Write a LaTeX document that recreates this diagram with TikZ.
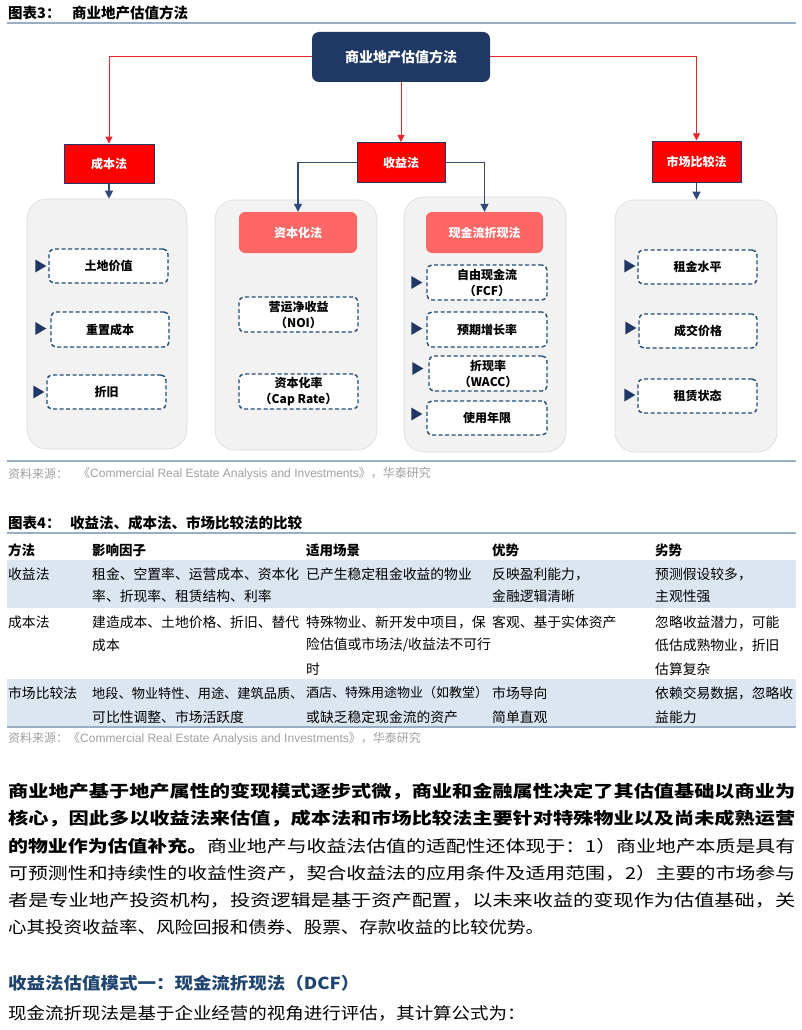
\documentclass[tikz,border=0pt]{standalone}
\usepackage{fontspec}
\usepackage{graphicx}
\setmainfont{Noto Sans CJK SC}
\newfontfamily\lat{Liberation Sans}
\usetikzlibrary{arrows.meta}
\definecolor{navy}{HTML}{1F3864}
\definecolor{navyline}{HTML}{2F4A7A}
\definecolor{dashnavy}{HTML}{1F4E79}
\definecolor{redfill}{HTML}{FF0000}
\definecolor{redline}{HTML}{E8262B}
\definecolor{salmon}{HTML}{FF6666}
\definecolor{panelgray}{HTML}{F2F2F2}
\definecolor{panelline}{HTML}{DADADA}
\definecolor{rulecol}{HTML}{9AAEC6}
\definecolor{srcgray}{HTML}{A0A0A0}
\definecolor{rowblue}{HTML}{DCE6F1}
\definecolor{headblue}{HTML}{1F4470}
\newcommand{\fullline}[1]{\resizebox{787pt}{\height}{#1}}
\newcommand{\shl}[1]{\scalebox{1.12}[1]{#1}}
\tikzset{
  x=1pt, y=-1pt,
  panel/.style={draw=panelline, fill=panelgray, rounded corners=20pt, line width=0.6pt},
  dbox/.style={draw=dashnavy, dashed, dash pattern=on 4pt off 2.5pt, line width=1.4pt, fill=white,
    rounded corners=5pt, minimum width=119pt, minimum height=34pt, inner sep=1pt, align=center,
    font=\fontsize{12}{16}\selectfont\bfseries},
  redbox/.style={draw=navy, line width=1pt, fill=redfill, minimum width=90pt, minimum height=39pt,
    text=white, font=\fontsize{12}{14}\selectfont\bfseries},
  salbox/.style={fill=salmon, rounded corners=6pt, minimum width=118pt, minimum height=41pt,
    text=white, font=\fontsize{12}{14}\selectfont\bfseries},
  redarr/.style={draw=redline, line width=1pt, -{Triangle[width=7pt,length=7pt]}},
  navarr/.style={draw=navyline, line width=1.2pt, -{Triangle[width=8pt,length=8pt]}},
  rulestyle/.style={draw=rulecol, line width=1.2pt},
  title/.style={anchor=west, inner sep=0pt, font=\fontsize{14.5}{16}\selectfont\bfseries},
  src/.style={anchor=west, inner sep=0pt, text=srcgray, font=\fontsize{12}{14}\selectfont},
  th/.style={anchor=west, inner sep=0pt, font=\fontsize{13.5}{16}\selectfont\bfseries},
  td/.style={anchor=west, inner sep=0pt, font=\fontsize{13.8}{16}\selectfont},
  para/.style={anchor=west, inner sep=0pt, font=\fontsize{16.5}{18}\selectfont},
}
\begin{document}
\begin{tikzpicture}
\useasboundingbox[fill=white] (0,0) rectangle (802,1030);

% ---------- Figure 3 ----------
\node[title] (t3a) at (8,13) {图表3：};
\node[title] (t3b) at (72,13) {商业地产估值方法};
\draw[rulestyle] (7,23) -- (796,23);

\node[fill=navy, rounded corners=7pt, minimum width=178pt, minimum height=50pt, text=white,
  font=\fontsize{14}{16}\selectfont\bfseries] (T) at (401,57) {商业地产估值方法};

\node[redbox] (C) at (109,163.5) {成本法};
\node[redbox, minimum width=88pt, minimum height=40pt] (S) at (401,162.5) {收益法};
\node[redbox, minimum width=89pt, minimum height=41pt] (M) at (696.5,161.5) {市场比较法};

\draw[redarr] (T.west) -| (C.north);
\draw[redarr] (T.east) -| (M.north);
\draw[redarr] (T.south) -- (S.north);

% panels
\node[panel, minimum width=160pt, minimum height=250pt] (P1) at (107,324) {};
\node[panel, minimum width=162pt, minimum height=250pt] (P2) at (296,325) {};
\node[panel, minimum width=162pt, minimum height=255pt] (P3) at (485,324.5) {};
\node[panel, minimum width=162pt, minimum height=252pt] (P4) at (696,326) {};

\node[salbox] (K) at (298,232.5) {资本化法};
\node[salbox, minimum width=117pt] (D) at (484.5,232.5) {现金流折现法};

\draw[navarr] (C.south) -- (C.south |- P1.north);
\draw[navarr] (S.west) -| (K.north);
\draw[navarr] (S.east) -| (D.north);
\draw[navarr] (M.south) -- (M.south |- P4.north);

% panel 1
\node[dbox] (b11) at (108.5,266) {土地价值};
\node[dbox, minimum width=118pt, minimum height=35pt] (b12) at (110,329.5) {重置成本};
\node[dbox] (b13) at (106.5,392) {折旧};
% panel 2
\node[dbox, minimum height=35pt] (b21) at (298.5,314.5) {营运净收益\\（NOI）};
\node[dbox, minimum height=35pt] (b22) at (298.5,391.5) {资本化率\\（Cap Rate）};
% panel 3
\node[dbox, minimum width=120pt, minimum height=35pt] (b31) at (487,282.5) {自由现金流\\（FCF）};
\node[dbox, minimum width=120pt, minimum height=35pt] (b32) at (487,329.5) {预期增长率};
\node[dbox, minimum width=118pt, minimum height=35pt] (b33) at (488,373.5) {折现率\\（WACC）};
\node[dbox, minimum width=120pt] (b34) at (487,418) {使用年限};
% panel 4
\node[dbox] (b41) at (697.5,267) {租金水平};
\node[dbox, minimum width=118pt] (b42) at (698,331) {成交价格};
\node[dbox] (b43) at (697.5,396) {租赁状态};

% triangle markers
\foreach \b/\dx/\dy in {b11/2/0, b12/4/1, b13/2/0, b31/4/0, b32/4/1, b33/5/5, b34/4/4, b41/2/1, b42/2/3, b43/2/1}{
  \fill[navy] ([xshift=-\dx pt, yshift=\dy pt]\b.west) -- ++(-11,6.5) -- ++(0,-13) -- cycle;
}

\draw[rulestyle] (7,461) -- (796,461);
\node[src] (s1a) at (8,474) {资料来源：};
\node[src] (s1b) at (78,474) {《{\lat Commercial Real Estate Analysis and Investments}》，华泰研究};

% ---------- Figure 4 (table) ----------
\node[title] (t4a) at (8,523) {图表4：};
\node[title] (t4b) at (70,523) {收益法、成本法、市场比较法的比较};
\draw[rulestyle] (7,533) -- (796,533);

\fill[rowblue] (7,560) rectangle (796,608);
\fill[rowblue] (7,679) rectangle (796,727);
\draw[rulestyle] (7,727) -- (796,727);

\node[th] (h1) at (8,550) {方法};
\node[th] (h2) at (92,550) {影响因子};
\node[th] (h3) at (306,550) {适用场景};
\node[th] (h4) at (492,550) {优势};
\node[th] (h5) at (655,550) {劣势};

% row 1
\node[td] (r11) at (8,574) {收益法};
\node[td] (r12a) at (92,574) {租金、空置率、运营成本、资本化};
\node[td] (r12b) at (92,596) {率、折现率、租赁结构、利率};
\node[td] (r13) at (306,574) {已产生稳定租金收益的物业};
\node[td] (r14a) at (492,574) {反映盈利能力，};
\node[td] (r14b) at (492,596) {金融逻辑清晰};
\node[td] (r15a) at (655,574) {预测假设较多，};
\node[td] (r15b) at (655,596) {主观性强};
% row 2
\node[td] (r21) at (8,622) {成本法};
\node[td] (r22a) at (92,622) {建造成本、土地价格、折旧、替代};
\node[td] (r22b) at (92,645) {成本};
\node[td] (r23a) at (306,622) {特殊物业、新开发中项目，保};
\node[td] (r23b) at (306,645) {险估值或市场法/收益法不可行};
\node[td] (r23c) at (306,669) {时};
\node[td] (r24) at (492,622) {客观、基于实体资产};
\node[td] (r25a) at (655,622) {忽略收益潜力，可能};
\node[td] (r25b) at (655,645) {低估成熟物业，折旧};
\node[td] (r25c) at (655,669) {估算复杂};
% row 3
\node[td] (r31) at (8,693) {市场比较法};
\node[td, font=\fontsize{13.2}{16}\selectfont] (r32a) at (92,693) {地段、物业特性、用途、建筑品质、};
\node[td] (r32b) at (92,717) {可比性调整、市场活跃度};
\node[td, font=\fontsize{13}{16}\selectfont] (r33a) at (306,693) {酒店、特殊用途物业（如教堂）};
\node[td] (r33b) at (306,717) {或缺乏稳定现金流的资产};
\node[td] (r34a) at (492,693) {市场导向};
\node[td] (r34b) at (492,717) {简单直观};
\node[td] (r35a) at (655,693) {依赖交易数据，忽略收};
\node[td] (r35b) at (655,717) {益能力};

\node[src] (s2) at (8,739) {资料来源：《{\lat Commercial Real Estate Analysis and Investments}》，华泰研究};

% ---------- Body text ----------
\node[para] (p1) at (8,792) {\fullline{\bfseries 商业地产基于地产属性的变现模式逐步式微，商业和金融属性决定了其估值基础以商业为}};
\node[para] (p2) at (8,819) {\fullline{\bfseries 核心，因此多以收益法来估值，成本法和市场比较法主要针对特殊物业以及尚未成熟运营}};
\node[para] (p3) at (8,846) {\fullline{{\bfseries 的物业作为估值补充。}商业地产与收益法估值的适配性还体现于：1）商业地产本质是具有}};
\node[para] (p4) at (8,873) {\fullline{可预测性和持续性的收益性资产，契合收益法的应用条件及适用范围，2）主要的市场参与}};
\node[para] (p5) at (8,900) {\fullline{者是专业地产投资机构，投资逻辑是基于资产配置，以未来收益的变现作为估值基础，关}};
\node[para] (p6) at (8,927) {\shl{心其投资收益率、风险回报和债券、股票、存款收益的比较优势。}};

\node[para, text=headblue] (hd) at (8,983) {\shl{\bfseries 收益法估值模式一：现金流折现法（DCF）}};
\node[para] (p7) at (8,1013) {\shl{现金流折现法是基于企业经营的视角进行评估，其计算公式为：}};
\end{tikzpicture}
\end{document}
